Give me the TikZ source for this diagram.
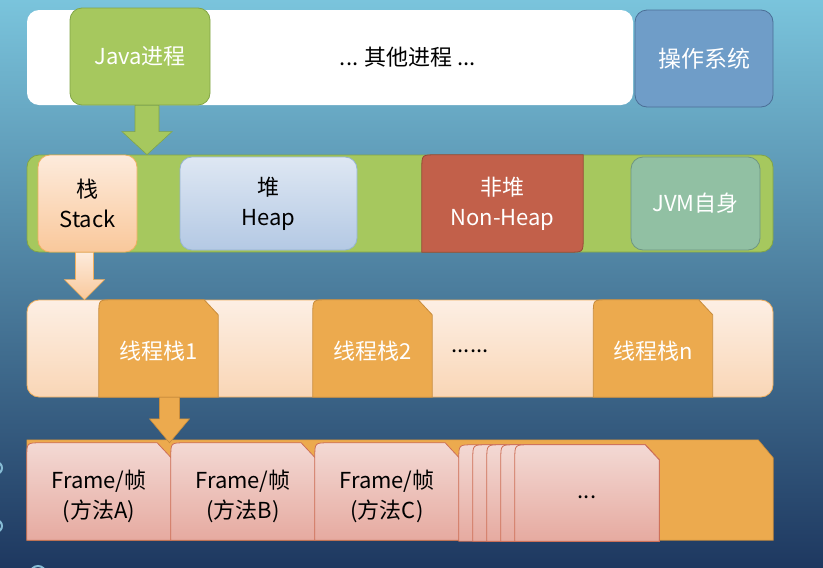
\documentclass[tikz,border=0pt]{standalone}
\usepackage{fontspec}
\setmainfont{Noto Sans CJK SC}
\usetikzlibrary{calc}

\definecolor{bgtop}{RGB}{122,196,220}
\definecolor{bgmid}{RGB}{82,160,195}
\definecolor{bgbot}{RGB}{30,56,96}
\definecolor{javagreen}{RGB}{166,200,94}
\definecolor{javaline}{RGB}{130,165,70}
\definecolor{osblue}{RGB}{111,157,200}
\definecolor{osline}{RGB}{75,110,150}
\definecolor{peachtop}{RGB}{253,235,220}
\definecolor{peachbot}{RGB}{249,200,155}
\definecolor{peachline}{RGB}{240,175,95}
\definecolor{heaptop}{RGB}{222,231,243}
\definecolor{heapbot}{RGB}{180,201,228}
\definecolor{heapline}{RGB}{150,180,210}
\definecolor{nonheapred}{RGB}{194,96,74}
\definecolor{nonheapline}{RGB}{150,70,55}
\definecolor{jvmgreen}{RGB}{145,192,163}
\definecolor{jvmline}{RGB}{110,150,130}
\definecolor{bartop}{RGB}{253,239,228}
\definecolor{barbot}{RGB}{249,214,182}
\definecolor{taborange}{RGB}{236,170,78}
\definecolor{tabline}{RGB}{200,140,60}
\definecolor{frametop}{RGB}{243,217,212}
\definecolor{framebot}{RGB}{230,170,160}
\definecolor{frameline}{RGB}{205,110,85}

% block arrow pointing down: from, to, shaft half, head half, head length, style
\newcommand\blockdown[6]{%
  \path[#6] let \p1=(#1), \p2=(#2) in
    (\x1-#3pt,\y1) -- (\x1+#3pt,\y1) -- (\x1+#3pt,\y2+#5pt) -- (\x1+#4pt,\y2+#5pt)
    -- (\x1,\y2) -- (\x1-#4pt,\y2+#5pt) -- (\x1-#3pt,\y2+#5pt) -- cycle;}

% rounded top left, snipped top right
\newcommand\snipshape[2]{%
  \path[#2] (#1.south west) -- ([yshift=-14pt]#1.north west)
    .. controls (#1.north west) .. ([xshift=14pt]#1.north west)
    -- ([xshift=-14pt]#1.north east) -- ([yshift=-15pt]#1.north east)
    -- (#1.south east) -- cycle;}

\begin{document}
\begin{tikzpicture}[x=1pt,y=-1pt,
    every node/.style={font=\fontsize{22}{30}\selectfont, align=center, inner sep=0pt},
    box/.style={rounded corners=12pt, line width=0.8pt},
    txt/.style={text=black},
    wtxt/.style={text=white},
    tab/.style={fill=taborange, draw=tabline, line width=0.8pt},
    framebox/.style={top color=frametop, bottom color=framebot, draw=frameline, line width=0.8pt},
]

% background
\shade[top color=bgtop, middle color=bgmid, bottom color=bgbot] (0,0) rectangle (823,568);
\useasboundingbox (0,0) rectangle (823,568);
\begin{scope}[line width=2pt]
    \draw[bgmid!70!white] (-4,468) circle [radius=6];
    \draw[bgmid!70!white] (-4,526) circle [radius=6];
    \draw[bgmid!70!white] (38,574) circle [radius=8];
\end{scope}


% processes
\node[box, fill=white, minimum width=606pt, minimum height=95pt] (procs) at (330,57.5) {};
\node[txt] (others) at (408,57) {... 其他进程 ...};
\node[box, fill=javagreen, draw=javaline, wtxt, minimum width=140pt, minimum height=97pt] (java) at (140,56.5) {Java进程};
\node[box, fill=osblue, draw=osline, wtxt, font=\fontsize{23}{30}\selectfont,
    minimum width=138pt, minimum height=97pt] (os) at (704,58.5) {操作系统};


% jvm memory
\node[box, fill=javagreen, draw=javaline, minimum width=746pt, minimum height=97pt] (jvmbar) at (400,203.5) {};
\node[box, top color=peachtop, bottom color=peachbot, draw=peachline, txt,
    minimum width=99pt, minimum height=97pt] (stack) at (87.5,203.5) {栈\\Stack};
\node[box, top color=heaptop, bottom color=heapbot, draw=heapline, txt,
    minimum width=177pt, minimum height=93pt] (heap) at (268.5,203.5) {堆\\Heap};
\node[minimum width=161pt, minimum height=97pt] (nonheap) at (502.5,203.5) {};
\path[fill=nonheapred, draw=nonheapline, line width=0.8pt] (nonheap.south west)
    -- ([yshift=-14pt]nonheap.north west) .. controls (nonheap.north west) .. ([xshift=14pt]nonheap.north west)
    -- (nonheap.north east)
    -- ([yshift=14pt]nonheap.south east) .. controls (nonheap.south east) .. ([xshift=-14pt]nonheap.south east)
    -- cycle;
\node[wtxt] (nonheaptext) at (nonheap) {非堆\\Non-Heap};
\node[box, fill=jvmgreen, draw=jvmline, wtxt, minimum width=129pt, minimum height=93pt] (jvmself) at (695.5,203.5) {JVM自身};

\coordinate (ga) at ([xshift=7pt]java.south);
\blockdown{ga}{ga |- jvmbar.north}{12}{25}{23}{fill=javagreen, draw=javaline, line width=0.6pt}


% thread stacks
\node[box, top color=bartop, bottom color=barbot, draw=peachline, minimum width=746pt, minimum height=97pt] (threadbar) at (400,348.5) {};
\foreach \name/\x/\lbl in {ts1/158.5/线程栈1, ts2/372.5/线程栈2, tsn/653/线程栈n} {
    \node[minimum width=119pt, minimum height=97pt] (\name) at (\x,348.5) {};
    \snipshape{\name}{tab}
    \node[wtxt] (\name-text) at ([yshift=-3pt]\name) {\lbl};
}
\node[txt] (tsdots) at (470,351) {......};

\coordinate (sa) at ([xshift=-3pt]stack.south);
\blockdown{sa}{sa |- threadbar.north}{9}{20}{20}{top color=peachtop, bottom color=peachbot, draw=peachline, line width=0.6pt}


% frames
\node[minimum width=746pt, minimum height=100pt] (framebar) at (400,490) {};
\path[fill=taborange, draw=tabline, line width=0.6pt] (framebar.south west) -- (framebar.north west)
    -- ([xshift=-15pt]framebar.north east) -- ([yshift=-18pt]framebar.north east)
    -- (framebar.south east) -- cycle;
\foreach \name/\x/\lbl in {fa/99/A, fb/243/B, fc/387/C} {
    \node[minimum width=144pt, minimum height=97pt] (\name) at (\x,491.5) {};
    \snipshape{\name}{framebox}
    \node[txt] (\name-text) at ([yshift=-5pt]\name) {Frame/帧\\(方法\lbl)};
}
\foreach \l [count=\i] in {459,473,487,501,515} {
    \node[minimum width={(659-\l)*1pt}, minimum height=96pt] (fs\i) at ({(659+\l)/2},493) {};
    \snipshape{fs\i}{framebox}
}
\node[txt] (fdots) at ([yshift=-4pt]fs5) {...};

\coordinate (ta) at ([xshift=11pt]ts1.south);
\blockdown{ta}{ta |- fb.north}{10}{20}{24}{fill=taborange, draw=tabline, line width=0.6pt}

\end{tikzpicture}
\end{document}
